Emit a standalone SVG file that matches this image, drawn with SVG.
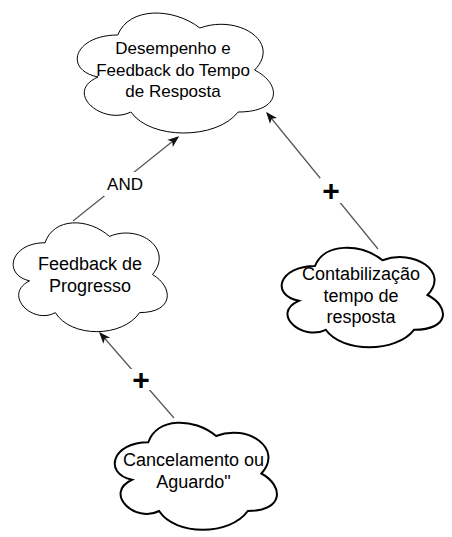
<svg xmlns="http://www.w3.org/2000/svg" width="452" height="537" viewBox="0 0 452 537">
<style>
.cloud{fill:#ffffff;stroke:#000000;stroke-width:1}
.cloud.bold{stroke-width:2}
.t{font-family:"Liberation Sans",Arial,Helvetica,sans-serif;font-size:18px;fill:#000000;text-anchor:middle}
.edge{fill:none;stroke:#555555;stroke-width:1.2}
.lbl-bg{fill:#ffffff;stroke:none}
.plus{font-family:"Liberation Sans",Arial,Helvetica,sans-serif;font-size:30px;font-weight:bold;fill:#000000;text-anchor:middle}
</style>
<defs>
<marker id="arrow" markerUnits="userSpaceOnUse" markerWidth="10" markerHeight="8" refX="9" refY="3.5" orient="auto" overflow="visible">
<path d="M0,0 L9,3.5 L0,7 L2.25,3.5 Z" fill="#111111" stroke="#111111" stroke-width="1"/>
</marker>
</defs>
<rect x="0" y="0" width="452" height="537" fill="#ffffff"/>
<g id="node-desempenho">
<path class="cloud" d="M117.75,35 C73.95,35 63,70 98.04,77 C63,92.4 102.42,126 130.89,112 C150.6,140 216.3,140 238.2,112 C282,112 282,84 254.6,70 C282,42 238.2,14 199.9,28 C172.5,7 128.7,7 117.75,35Z"/>
<text class="t" style="font-size:17px" x="173" y="54">Desempenho e</text>
<text class="t" style="font-size:17px" x="173" y="75.5">Feedback do Tempo</text>
<text class="t" style="font-size:17px" x="173" y="97">de Resposta</text>
</g>
<g id="node-feedback-progresso">
<path class="cloud" d="M45,242.75 C10.6,242.75 2,274.5 29.52,280.85 C2,294.82 32.96,325.3 55.32,312.6 C70.8,338 122.4,338 139.6,312.6 C174,312.6 174,287.2 152.5,274.5 C174,249.1 139.6,223.7 109.5,236.4 C88,217.35 53.6,217.35 45,242.75Z"/>
<text class="t" x="90" y="270">Feedback de</text>
<text class="t" x="90" y="292">Progresso</text>
</g>
<g id="node-contabilizacao">
<path class="cloud bold" d="M315,266 C279,266 270,295 298.8,300.8 C270,313.56 302.4,341.4 325.8,329.8 C342,353 396,353 414,329.8 C450,329.8 450,306.6 427.5,295 C450,271.8 414,248.6 382.5,260.2 C360,242.8 324,242.8 315,266Z"/>
<text class="t" x="361" y="280">Contabilização</text>
<text class="t" x="361" y="301.5">tempo de</text>
<text class="t" x="361" y="323">resposta</text>
</g>
<g id="node-cancelamento">
<path class="cloud bold" d="M148.25,442.25 C112.05,442.25 103,473.5 131.96,479.75 C103,493.5 135.58,523.5 159.11,511 C175.4,536 229.7,536 247.8,511 C284,511 284,486 261.4,473.5 C284,448.5 247.8,423.5 216.1,436 C193.5,417.25 157.3,417.25 148.25,442.25Z"/>
<text class="t" x="193.5" y="466">Cancelamento ou</text>
<text class="t" x="193.5" y="487.5">Aguardo&quot;</text>
</g>
<g id="connectors">
<g id="edge-and">
<path class="edge" d="M73,221 L178,137" marker-end="url(#arrow)"/>
<rect class="lbl-bg" x="104" y="172" width="42" height="24"/>
<text class="t" style="font-size:17px" x="125" y="190">AND</text>
</g>
<g id="edge-plus-1">
<path class="edge" d="M174,418 L100,333" marker-end="url(#arrow)"/>
<rect class="lbl-bg" x="130" y="369" width="22" height="21"/>
<text class="plus" x="141" y="389.5">+</text>
</g>
<g id="edge-plus-2">
<path class="edge" d="M378,249 L267,113" marker-end="url(#arrow)"/>
<rect class="lbl-bg" x="320" y="178" width="22" height="25"/>
<text class="plus" x="331" y="200.5">+</text>
</g>
</g>
</svg>
